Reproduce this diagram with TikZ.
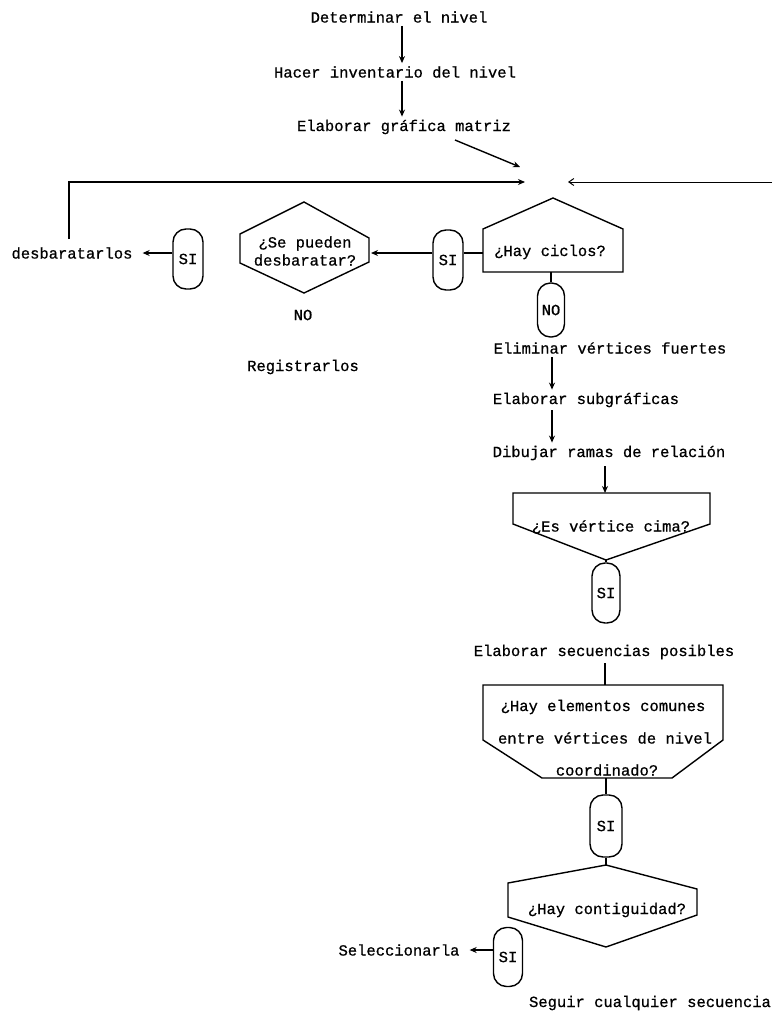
\documentclass[tikz,border=0pt]{standalone}
\usepackage{fontspec}
\newfontfamily\twfont{Liberation Mono}[FakeBold=0.7]
\usetikzlibrary{arrows.meta,calc}
\begin{document}
\begin{tikzpicture}[x=1pt,y=-1pt,
  every node/.style={font=\twfont\fontsize{15.5}{18}\selectfont, inner sep=0pt},
  ln/.style={line width=1.4pt, black},
  arr/.style={ln, -{Stealth[length=7pt,width=6pt]}},
  oval/.style={draw, line width=1.4pt, rounded corners=13pt, minimum width=30pt, minimum height=60pt}
]
\fill[white] (0,0) rectangle (774,1012);
\useasboundingbox (0,0) rectangle (774,1012);

% guide coordinates
\coordinate (vx1) at (402,0);
\coordinate (vx2) at (552,0);
\coordinate (vx3) at (605,0);
\coordinate (vl) at (69,0);
\coordinate (jl) at (525,182);
\coordinate (jr) at (568,182);
\coordinate (jd) at (520,167);
\coordinate (rend) at (772,182);

% shapes
\draw[ln] (553,198) -- (623,229) -- (623,272) -- (483,272) -- (483,229) -- cycle;
\coordinate (hcL) at (483,253);
\coordinate (hcB) at (551,272);
\draw[ln] (304,202) -- (369,238) -- (369,262) -- (304,293) -- (240,263) -- (240,234) -- cycle;
\coordinate (spR) at (371,253);
\draw[ln] (513,493) -- (710,493) -- (710,524) -- (606,560) -- (513,524) -- cycle;
\coordinate (evcT) at (605,493);
\coordinate (evcB) at (606,560);
\draw[ln] (483,685) -- (723,685) -- (723,740) -- (672,778) -- (542,778) -- (483,740) -- cycle;
\coordinate (hecT) at (605,685);
\coordinate (hecB) at (606,778);
\draw[ln] (606,865) -- (697,889) -- (697,915) -- (606,947) -- (508,917) -- (508,883) -- cycle;
\coordinate (hcgT) at (606,865);

% texts
\node (det) at (399,17) {Determinar el nivel};
\node (hac) at (395,72) {Hacer inventario del nivel};
\node (egm) at (404,127) {Elaborar gráfica matriz};
\node (desb) at (72,253) {desbaratarlos};
\node[oval] (si1) at (188,259) {SI};
\node[align=center] (sp) at (305,251) {¿Se pueden\\desbaratar?};
\node[oval] (si2) at (448,260) {SI};
\node (hc) at (550,252) {¿Hay ciclos?};
\node[oval, minimum width=27pt, minimum height=54pt] (no1) at (551,310) {NO};
\node (no2) at (303,315) {NO};
\node (reg) at (303,367) {Registrarlos};
\node (elim) at (610,348) {Eliminar vértices fuertes};
\node (sub) at (586,400) {Elaborar subgráficas};
\node (dib) at (609,453) {Dibujar ramas de relación};
\node (evc) at (611,527) {¿Es vértice cima?};
\node[oval, minimum width=28pt] (si3) at (606,593) {SI};
\node (esp) at (604,652) {Elaborar secuencias posibles};
\node (hec1) at (603,707) {¿Hay elementos comunes};
\node (hec2) at (605,738) {entre vértices de nivel};
\node (hec3) at (607,770) {coordinado?};
\node[oval, minimum width=32pt, minimum height=62pt] (si4) at (606,826) {SI};
\node (hcg) at (607,910) {¿Hay contiguidad?};
\node[oval, minimum width=29pt, minimum height=59pt] (si5) at (508,957) {SI};
\node (sel) at (399,950) {Seleccionarla};
\node (seg) at (650,1003) {Seguir cualquier secuencia};

% connectors
\draw[arr, shorten <=3pt, shorten >=3pt] (det.south -| vx1) -- (hac.north -| vx1);
\draw[arr, shorten <=3pt, shorten >=3pt] (hac.south -| vx1) -- (egm.north -| vx1);
\draw[arr] ($(egm.center)+(51,13)$) -- (jd);
\draw[arr, shorten <=8pt] (desb.north -| vl) -- (vl |- jl) -- (jl);
\draw[ln, line width=1pt, -{Straight Barb[length=5pt,width=7pt]}] (rend) -- (jr);
\draw[ln] (hcB) -- (no1.north);
\draw[ln, line width=2pt] (hcL) -- (si2.east |- hcL);
\draw[arr, line width=1.8pt] (si2.west |- hcL) -- (spR);
\draw[arr, shorten >=10pt] (si1.west |- desb) -- (desb.east);
\draw[arr, shorten <=3pt, shorten >=3pt] (elim.south -| vx2) -- (sub.north -| vx2);
\draw[arr, shorten <=3pt, shorten >=3pt] (sub.south -| vx2) -- (dib.north -| vx2);
\draw[arr, shorten <=6pt] (dib.south -| vx3) -- (evcT);
\draw[ln] (evcB) -- (si3.north);
\draw[ln, shorten <=4pt] (esp.south -| vx3) -- (hecT);
\draw[ln] (hecB) -- (si4.north);
\draw[ln] (si4.south) -- (hcgT);
\draw[arr, shorten >=10pt] (si5.west |- sel) -- (sel.east);
\end{tikzpicture}
\end{document}
